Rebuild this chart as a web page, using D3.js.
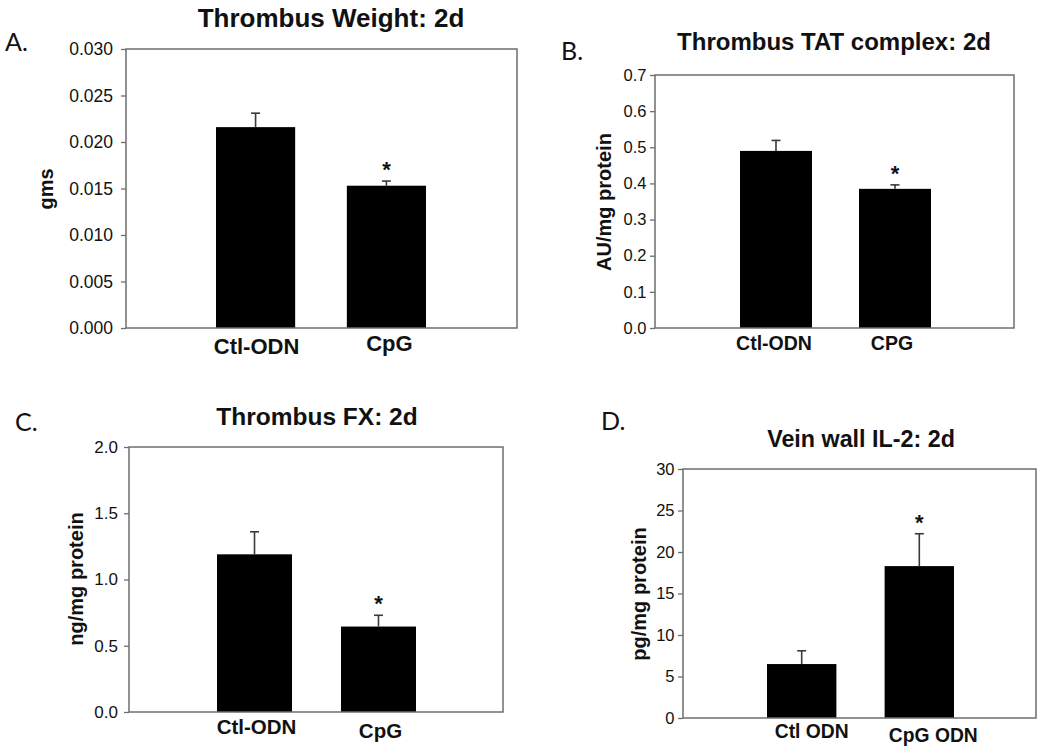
<!DOCTYPE html>
<html>
<head>
<meta charset="utf-8">
<script src="https://cdn.jsdelivr.net/npm/d3@7"></script>
<style>
  html, body { margin: 0; padding: 0; background: #fff; }
  svg { display: block; }
</style>
</head>
<body>
<svg id="chart" width="1050" height="756"></svg>
<script>
// ---------------- DATA ----------------
const panelLetters = ["A.", "B.", "C.", "D."];
const panelTitles = ["Thrombus Weight: 2d", "Thrombus TAT complex: 2d", "Thrombus FX: 2d", "Vein wall IL-2: 2d"];
const yAxisLabels = ["gms", "AU/mg protein", "ng/mg protein", "pg/mg protein"];

const categoriesA = ["Ctl-ODN", "CpG"];
const meansA = [0.0216, 0.0153];
const errorsA = [0.0015, 0.0005];
const ticksA = [0.000, 0.005, 0.010, 0.015, 0.020, 0.025, 0.030];
const significantA = [false, true];

const categoriesB = ["Ctl-ODN", "CPG"];
const meansB = [0.490, 0.385];
const errorsB = [0.029, 0.011];
const ticksB = [0.0, 0.1, 0.2, 0.3, 0.4, 0.5, 0.6, 0.7];
const significantB = [false, true];

const categoriesC = ["Ctl-ODN", "CpG"];
const meansC = [1.19, 0.645];
const errorsC = [0.17, 0.085];
const ticksC = [0.0, 0.5, 1.0, 1.5, 2.0];
const significantC = [false, true];

const categoriesD = ["Ctl ODN", "CpG ODN"];
const meansD = [6.5, 18.3];
const errorsD = [1.6, 3.9];
const ticksD = [0, 5, 10, 15, 20, 25, 30];
const significantD = [false, true];

const tickFormats = [".3f", ".1f", ".1f", "d"];

// ---------------- LAYOUT (positions / sizes only) ----------------
const layouts = [
  { box: [126, 49, 517, 328], bars: [216, 426], pad: 0.395,
    letter: [5, 51, 25], title: [331, 27, 26], ylab: [53, 189], xlabFont: 22,
    xlabDx: [1, 3], xlabY: [354, 351], tickFont: 17.5, tickPad: 8 },
  { box: [655, 75, 1014, 328], bars: [740, 931], pad: 0.395,
    letter: [561, 60, 25], title: [834, 50, 24], ylab: [611, 202], xlabFont: 19.5,
    xlabDx: [-2, -3], xlabY: [350, 350], tickFont: 16.5, tickPad: 3.5 },
  { box: [129, 447, 503, 712], bars: [217, 416], pad: 0.395,
    letter: [15, 431, 25], title: [317, 425, 24.5], ylab: [83, 579], xlabFont: 20.5,
    xlabDx: [2, 2], xlabY: [734, 738], tickFont: 17, tickPad: 6 },
  { box: [683, 469, 1036, 718], bars: [767, 954], pad: 0.41,
    letter: [601, 430, 25], title: [861, 447, 23.3], ylab: [646, 594], xlabFont: 19.3,
    xlabDx: [10, 14], xlabY: [738, 742], tickFont: 16.5, tickPad: 3.5 }
];

const panelData = [
  { cats: categoriesA, means: meansA, errs: errorsA, ticks: ticksA, sig: significantA },
  { cats: categoriesB, means: meansB, errs: errorsB, ticks: ticksB, sig: significantB },
  { cats: categoriesC, means: meansC, errs: errorsC, ticks: ticksC, sig: significantC },
  { cats: categoriesD, means: meansD, errs: errorsD, ticks: ticksD, sig: significantD }
];

const FONT = "'Liberation Sans', Arial, Helvetica, sans-serif";
const LETTER_FONT = "Lato, 'Open Sans', sans-serif";
const svg = d3.select("#chart");

panelData.forEach((pd, i) => {
  const L = layouts[i];
  const [x0, y0, x1, y1] = L.box;
  const g = svg.append("g");

  const y = d3.scaleLinear()
    .domain([d3.min(pd.ticks), d3.max(pd.ticks)])
    .range([y1, y0]);
  const x = d3.scaleBand()
    .domain(pd.cats)
    .range(L.bars)
    .paddingInner(L.pad)
    .paddingOuter(0);

  // bars
  g.selectAll("rect.bar").data(pd.cats).join("rect")
    .attr("class", "bar")
    .attr("x", c => x(c))
    .attr("width", x.bandwidth())
    .attr("y", (c, j) => y(pd.means[j]))
    .attr("height", (c, j) => y(0) - y(pd.means[j]))
    .attr("fill", "#000");

  // error bars (upper only)
  const eg = g.selectAll("g.err").data(pd.cats).join("g").attr("class", "err");
  eg.append("line")
    .attr("x1", c => x(c) + x.bandwidth() / 2)
    .attr("x2", c => x(c) + x.bandwidth() / 2)
    .attr("y1", (c, j) => y(pd.means[j]))
    .attr("y2", (c, j) => y(pd.means[j] + pd.errs[j]))
    .attr("stroke", "#3a3a3a").attr("stroke-width", 1.6);
  eg.append("line")
    .attr("x1", c => x(c) + x.bandwidth() / 2 - 4.5)
    .attr("x2", c => x(c) + x.bandwidth() / 2 + 4.5)
    .attr("y1", (c, j) => y(pd.means[j] + pd.errs[j]))
    .attr("y2", (c, j) => y(pd.means[j] + pd.errs[j]))
    .attr("stroke", "#3a3a3a").attr("stroke-width", 1.6);

  // significance asterisks
  g.selectAll("text.sig").data(pd.cats.filter((c, j) => pd.sig[j])).join("text")
    .attr("class", "sig")
    .attr("x", c => x(c) + x.bandwidth() / 2)
    .attr("y", c => { const j = pd.cats.indexOf(c); return y(pd.means[j] + pd.errs[j]) - 4; })
    .attr("text-anchor", "middle")
    .attr("font-family", FONT).attr("font-weight", "bold").attr("font-size", 22)
    .attr("fill", "#111")
    .text("*");

  // frame
  g.append("rect")
    .attr("x", x0).attr("y", y0)
    .attr("width", x1 - x0).attr("height", y1 - y0)
    .attr("fill", "none").attr("stroke", "#6e6e6e").attr("stroke-width", 1.5);

  // y axis
  const yAxis = d3.axisLeft(y)
    .tickValues(pd.ticks)
    .tickSize(5)
    .tickPadding(L.tickPad)
    .tickFormat(d3.format(tickFormats[i]));
  const ag = g.append("g").attr("transform", `translate(${x0},0)`).call(yAxis);
  ag.select(".domain").remove();
  ag.selectAll(".tick line").attr("stroke", "#6e6e6e").attr("stroke-width", 1.3);
  ag.selectAll(".tick text")
    .attr("font-family", FONT).attr("font-size", L.tickFont).attr("fill", "#111");

  // x category labels
  g.selectAll("text.xlab").data(pd.cats).join("text")
    .attr("class", "xlab")
    .attr("x", (c, j) => x(c) + x.bandwidth() / 2 + L.xlabDx[j])
    .attr("y", (c, j) => L.xlabY[j])
    .attr("text-anchor", "middle")
    .attr("font-family", FONT).attr("font-weight", "bold").attr("font-size", L.xlabFont)
    .attr("fill", "#111")
    .text(c => c);

  // y axis label
  g.append("text")
    .attr("transform", `translate(${L.ylab[0]},${L.ylab[1]}) rotate(-90)`)
    .attr("text-anchor", "middle")
    .attr("font-family", FONT).attr("font-weight", "bold").attr("font-size", 20)
    .attr("fill", "#111")
    .text(yAxisLabels[i]);

  // title
  g.append("text")
    .attr("x", L.title[0]).attr("y", L.title[1])
    .attr("text-anchor", "middle")
    .attr("font-family", FONT).attr("font-weight", "bold").attr("font-size", L.title[2])
    .attr("fill", "#111")
    .text(panelTitles[i]);

  // panel letter
  g.append("text")
    .attr("x", L.letter[0]).attr("y", L.letter[1])
    .attr("font-family", LETTER_FONT).attr("font-size", L.letter[2])
    .attr("fill", "#111")
    .text(panelLetters[i]);
});
</script>
</body>
</html>
